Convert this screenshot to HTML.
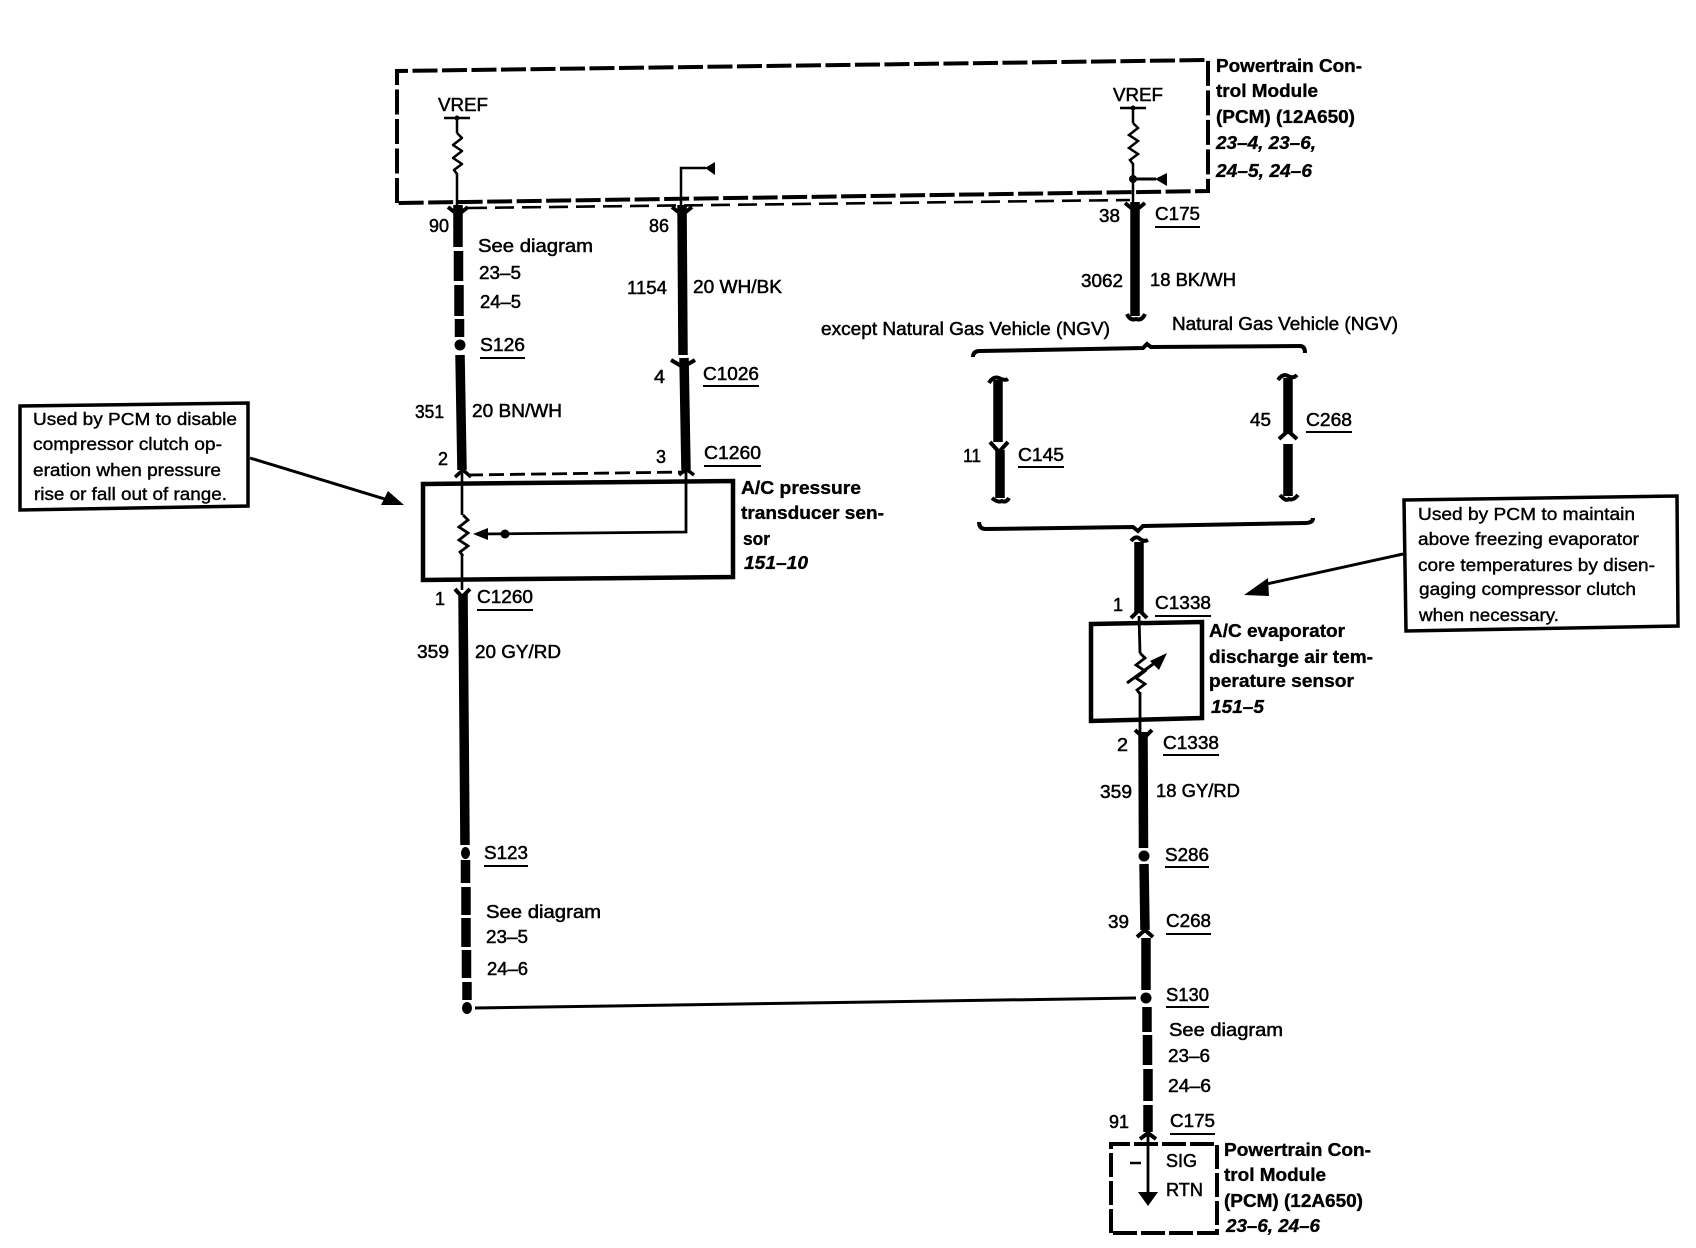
<!DOCTYPE html>
<html><head><meta charset="utf-8"><style>
html,body{margin:0;padding:0;background:#fff}
svg{display:block}
text{font-family:"Liberation Sans",sans-serif;font-size:18px;fill:#000;stroke:#000;stroke-width:.5px}
.b{font-weight:bold;stroke-width:.35px}
.i{font-weight:bold;font-style:italic;stroke-width:.35px}
.s{font-size:17.5px;stroke-width:.4px}
</style></head><body>
<svg width="1696" height="1248" viewBox="0 0 1696 1248" xmlns="http://www.w3.org/2000/svg">
<rect width="1696" height="1248" fill="#fff"/>
<g fill="none" stroke="#000" stroke-linecap="butt">
<!-- PCM dashed box -->
<path d="M397 203 L397 71 L1208 60 L1208 191 L397 203" stroke-width="4" stroke-dasharray="25 4.5"/>
<path d="M468 208 L1130 200" stroke-width="2.6" stroke-dasharray="19 8"/>
<!-- resistors / thin lines -->
<path d="M457 118V133" stroke-width="2.5"/><path d="M457 173V205" stroke-width="2.5"/>
<path d="M444 118H470" stroke-width="2.5"/>
<path d="M457 133 L462 138 L453 145 L462 151 L453 158 L462 164 L454 170 L457 174" stroke-width="2.5" stroke-linejoin="round"/>
<path d="M681 205V168H706" stroke-width="2.5"/>
<path d="M1133 108V123M1133 163V205" stroke-width="2.5"/><path d="M1120 108H1146" stroke-width="2.5"/>
<path transform="translate(676,-10)" d="M457 133 L462 138 L453 145 L462 151 L453 158 L462 164 L454 170 L457 174" stroke-width="2.5"/>
<path d="M1133 179H1156" stroke-width="3"/>
<!-- left wire upper -->
<path d="M458 205V247" stroke-width="9.500"/><path d="M458.500 251V281" stroke-width="9.500"/>
<path d="M459 285V316" stroke-width="9.500"/><path d="M459.500 319V337" stroke-width="9.500"/>
<path d="M460 355L462 470" stroke-width="9.500"/>
<!-- wire 1154 -->
<path d="M682 205L683 355" stroke-width="9.500"/><path d="M684 358L686 470" stroke-width="9.500"/>
<path d="M671 360L683 367L695 360" stroke-width="4"/>
<path d="M448 207L458 215L468 207" stroke-width="4"/>
<path d="M672 207L682 215L692 207" stroke-width="4"/>
<!-- sensor 1 -->
<path d="M423 484L733 481L733 577L423 580Z" stroke-width="4.500"/>
<path d="M462 470V515M462 555V590" stroke-width="2.6"/>
<path transform="translate(6,382)" d="M457 133 L462 138 L453 145 L462 151 L453 158 L462 164 L454 170 L457 174" stroke-width="2.8"/>
<path d="M686 470V532L480 534" stroke-width="2.8"/>
<path d="M468 475L685 472" stroke-width="2.8" stroke-dasharray="15 6"/>
<path d="M455 477L463 470L471 477M679 475L686 469L694 475" stroke-width="3.500"/>
<path d="M455 589L462 597L470 589" stroke-width="4"/>
<!-- left wire lower -->
<path d="M463 594L465 845" stroke-width="9.500"/>
<path d="M465.500 860V883M466 887V915M466 918V947M466.500 950V978M467 982V1000" stroke-width="9.500"/>
<path d="M475 1008L1136 998" stroke-width="3"/>
<!-- right upper wire -->
<path d="M1135 202V316" stroke-width="9.500"/>
<path d="M1125 203L1135 211L1145 203" stroke-width="4"/>
<path d="M1127 314Q1130 321 1136 319Q1142 321 1145 314" stroke-width="4"/>
<!-- brackets -->
<path d="M973 357Q973 351 980 351L1143 348L1147 344L1151 347L1300 346Q1305 346 1305 353" stroke-width="4"/>
<path d="M979 522Q979 529 986 529L1133 527L1138 531L1143 526L1305 523Q1313 523 1313 518" stroke-width="4"/>
<!-- branches -->
<path d="M998 380V442M1000 450V498" stroke-width="9.500"/>
<path d="M990 442L999 452L1008 442" stroke-width="4"/>
<path d="M989 383Q993 376 999 378Q1005 381 1008 379" stroke-width="4"/>
<path d="M992 498Q998 503 1002 501Q1006 503 1009 498" stroke-width="4"/>
<path d="M1288 378V434M1288 444V496" stroke-width="9.500"/>
<path d="M1279 439L1288 431L1297 439" stroke-width="4"/>
<path d="M1278 380Q1283 373 1288 376Q1293 379 1297 375" stroke-width="4"/>
<path d="M1280 495Q1286 502 1289 499Q1293 501 1298 495" stroke-width="4"/>
<!-- right mid wire -->
<path d="M1131 541Q1136 535 1140 539Q1144 542 1148 540" stroke-width="4"/>
<path d="M1139 542V612" stroke-width="9.500"/>
<path d="M1131 618L1139 610L1147 618" stroke-width="4"/>
<path d="M1091 624L1202 622L1202 718L1091 721Z" stroke-width="4.500"/>
<path d="M1139 616L1140 653M1140 692V735" stroke-width="2.800"/>
<path transform="translate(683,520)" d="M457 133 L462 138 L453 145 L462 151 L453 158 L462 164 L454 170 L457 174" stroke-width="2.800"/>
<path d="M1127 683L1156 662" stroke-width="3"/>
<path d="M1135 730L1144 738L1152 730" stroke-width="4"/>
<path d="M1143 732L1143.500 848" stroke-width="9.500"/>
<path d="M1144 864L1145 930" stroke-width="9.500"/>
<path d="M1137 937L1145 930L1153 937" stroke-width="4"/>
<path d="M1146 938L1146 990" stroke-width="9.500"/>
<path d="M1147 1007V1032M1147.500 1035V1065M1148 1069V1101M1148 1105V1132" stroke-width="9.500"/>
<path d="M1140 1139L1148 1133L1156 1139" stroke-width="4"/>
<!-- lower dashed box -->
<path d="M1111 1233V1144H1217V1233Z" stroke-width="4" stroke-dasharray="24 4"/>
<path d="M1148 1133V1195" stroke-width="2.800"/>
<path d="M1130 1163H1141" stroke-width="2.500"/>
<!-- callouts -->
<path d="M20 406L248 403L248 506L20 510Z" stroke-width="3.500"/>
<path d="M250 458L388 500" stroke-width="3"/>
<path d="M1404 500L1677 496L1678 626L1406 631Z" stroke-width="3.500"/>
<path d="M1403 554L1262 585" stroke-width="3"/>
<!-- underlines -->
<path stroke-width="2" d="M480 358H525M703 386H759M1155 227H1200M704 466H761M1306 432H1352M1018 467H1064M477 610H533M1155 616H1211M1163 755H1219M1165 867H1209M1166 934H1211M1166 1007H1209M1170 1134H1215M484 866H528"/>
</g>
<g fill="#000" stroke="none">
<path d="M705 168L715 162V175Z"/>
<path d="M1155 179L1167 173V186Z"/>
<circle cx="1133" cy="179" r="4"/>
<circle cx="457" cy="118" r="2.500"/><circle cx="1133" cy="108" r="2.500"/>
<circle cx="460" cy="345" r="5.500"/>
<ellipse cx="465.500" cy="853" rx="4.500" ry="6"/>
<ellipse cx="467" cy="1008" rx="5" ry="6"/>
<circle cx="1144" cy="856" r="5.500"/>
<circle cx="1146" cy="998" r="5.500"/>
<circle cx="505" cy="534" r="4.500"/>
<path d="M473 534L488 528V540Z"/>
<path d="M404 505L381 505L388 491Z"/>
<path d="M1244 595L1268 578L1269 596Z"/>
<path d="M1167 653L1150 661L1159 670Z"/>
<path d="M1148 1206L1138 1192H1158Z"/>
</g>
<!-- labels -->
<text x="438" y="111" textLength="50" lengthAdjust="spacingAndGlyphs">VREF</text>
<text x="1113" y="101" textLength="50" lengthAdjust="spacingAndGlyphs">VREF</text>
<text x="429" y="232" textLength="20" lengthAdjust="spacingAndGlyphs">90</text>
<text x="478" y="252" textLength="115" lengthAdjust="spacingAndGlyphs">See diagram</text>
<text x="479" y="279" textLength="42" lengthAdjust="spacingAndGlyphs">23–5</text>
<text x="480" y="308" textLength="41" lengthAdjust="spacingAndGlyphs">24–5</text>
<text x="480" y="351" textLength="45" lengthAdjust="spacingAndGlyphs">S126</text>
<text x="415" y="418" textLength="29" lengthAdjust="spacingAndGlyphs">351</text>
<text x="472" y="417" textLength="90" lengthAdjust="spacingAndGlyphs">20 BN/WH</text>
<text x="649" y="232" textLength="20" lengthAdjust="spacingAndGlyphs">86</text>
<text x="627" y="294" textLength="40" lengthAdjust="spacingAndGlyphs">1154</text>
<text x="693" y="293" textLength="89" lengthAdjust="spacingAndGlyphs">20 WH/BK</text>
<text x="654" y="383" textLength="11" lengthAdjust="spacingAndGlyphs">4</text>
<text x="703" y="380" textLength="56" lengthAdjust="spacingAndGlyphs">C1026</text>
<text x="821" y="335" textLength="289" lengthAdjust="spacingAndGlyphs">except Natural Gas Vehicle (NGV)</text>
<text class="b" x="1216" y="72" textLength="146" lengthAdjust="spacingAndGlyphs">Powertrain Con-</text>
<text class="b" x="1216" y="97" textLength="102" lengthAdjust="spacingAndGlyphs">trol Module</text>
<text class="b" x="1216" y="123" textLength="139" lengthAdjust="spacingAndGlyphs">(PCM) (12A650)</text>
<text class="i" x="1216" y="149" textLength="100" lengthAdjust="spacingAndGlyphs">23–4, 23–6,</text>
<text class="i" x="1216" y="177" textLength="96" lengthAdjust="spacingAndGlyphs">24–5, 24–6</text>
<text x="1099" y="222" textLength="21" lengthAdjust="spacingAndGlyphs">38</text>
<text x="1155" y="220" textLength="45" lengthAdjust="spacingAndGlyphs">C175</text>
<text x="1081" y="287" textLength="42" lengthAdjust="spacingAndGlyphs">3062</text>
<text x="1150" y="286" textLength="86" lengthAdjust="spacingAndGlyphs">18 BK/WH</text>
<text x="1172" y="330" textLength="226" lengthAdjust="spacingAndGlyphs">Natural Gas Vehicle (NGV)</text>
<text x="1250" y="426" textLength="21" lengthAdjust="spacingAndGlyphs">45</text>
<text x="1306" y="426" textLength="46" lengthAdjust="spacingAndGlyphs">C268</text>
<text x="963" y="462" textLength="18" lengthAdjust="spacingAndGlyphs">11</text>
<text x="1018" y="461" textLength="46" lengthAdjust="spacingAndGlyphs">C145</text>
<text class="s" x="33" y="425" textLength="204" lengthAdjust="spacingAndGlyphs">Used by PCM to disable</text>
<text class="s" x="33" y="450" textLength="189" lengthAdjust="spacingAndGlyphs">compressor clutch op-</text>
<text class="s" x="33" y="476" textLength="188" lengthAdjust="spacingAndGlyphs">eration when pressure</text>
<text class="s" x="34" y="500" textLength="193" lengthAdjust="spacingAndGlyphs">rise or fall out of range.</text>
<text x="438" y="465" textLength="10" lengthAdjust="spacingAndGlyphs">2</text>
<text x="656" y="463" textLength="10" lengthAdjust="spacingAndGlyphs">3</text>
<text x="704" y="459" textLength="57" lengthAdjust="spacingAndGlyphs">C1260</text>
<text class="b" x="741" y="494" textLength="120" lengthAdjust="spacingAndGlyphs">A/C pressure</text>
<text class="b" x="741" y="519" textLength="143" lengthAdjust="spacingAndGlyphs">transducer sen-</text>
<text class="b" x="743" y="545" textLength="27" lengthAdjust="spacingAndGlyphs">sor</text>
<text class="i" x="744" y="569" textLength="64" lengthAdjust="spacingAndGlyphs">151–10</text>
<text x="435" y="605" textLength="10" lengthAdjust="spacingAndGlyphs">1</text>
<text x="477" y="603" textLength="56" lengthAdjust="spacingAndGlyphs">C1260</text>
<text x="417" y="658" textLength="32" lengthAdjust="spacingAndGlyphs">359</text>
<text x="475" y="658" textLength="86" lengthAdjust="spacingAndGlyphs">20 GY/RD</text>
<text x="1113" y="611" textLength="10" lengthAdjust="spacingAndGlyphs">1</text>
<text x="1155" y="609" textLength="56" lengthAdjust="spacingAndGlyphs">C1338</text>
<text class="b" x="1209" y="637" textLength="136" lengthAdjust="spacingAndGlyphs">A/C evaporator</text>
<text class="b" x="1209" y="663" textLength="164" lengthAdjust="spacingAndGlyphs">discharge air tem-</text>
<text class="b" x="1209" y="687" textLength="145" lengthAdjust="spacingAndGlyphs">perature sensor</text>
<text class="i" x="1211" y="713" textLength="53" lengthAdjust="spacingAndGlyphs">151–5</text>
<text x="1117" y="751" textLength="11" lengthAdjust="spacingAndGlyphs">2</text>
<text x="1163" y="749" textLength="56" lengthAdjust="spacingAndGlyphs">C1338</text>
<text class="s" x="1418" y="520" textLength="217" lengthAdjust="spacingAndGlyphs">Used by PCM to maintain</text>
<text class="s" x="1418" y="545" textLength="221" lengthAdjust="spacingAndGlyphs">above freezing evaporator</text>
<text class="s" x="1418" y="571" textLength="237" lengthAdjust="spacingAndGlyphs">core temperatures by disen-</text>
<text class="s" x="1419" y="595" textLength="217" lengthAdjust="spacingAndGlyphs">gaging compressor clutch</text>
<text class="s" x="1419" y="621" textLength="140" lengthAdjust="spacingAndGlyphs">when necessary.</text>
<text x="1100" y="798" textLength="32" lengthAdjust="spacingAndGlyphs">359</text>
<text x="1156" y="797" textLength="84" lengthAdjust="spacingAndGlyphs">18 GY/RD</text>
<text x="1165" y="861" textLength="44" lengthAdjust="spacingAndGlyphs">S286</text>
<text x="1108" y="928" textLength="21" lengthAdjust="spacingAndGlyphs">39</text>
<text x="1166" y="927" textLength="45" lengthAdjust="spacingAndGlyphs">C268</text>
<text x="1166" y="1001" textLength="43" lengthAdjust="spacingAndGlyphs">S130</text>
<text x="1169" y="1036" textLength="114" lengthAdjust="spacingAndGlyphs">See diagram</text>
<text x="1168" y="1062" textLength="42" lengthAdjust="spacingAndGlyphs">23–6</text>
<text x="1168" y="1092" textLength="43" lengthAdjust="spacingAndGlyphs">24–6</text>
<text x="1109" y="1128" textLength="20" lengthAdjust="spacingAndGlyphs">91</text>
<text x="1170" y="1127" textLength="45" lengthAdjust="spacingAndGlyphs">C175</text>
<text class="b" x="1224" y="1156" textLength="147" lengthAdjust="spacingAndGlyphs">Powertrain Con-</text>
<text class="b" x="1224" y="1181" textLength="102" lengthAdjust="spacingAndGlyphs">trol Module</text>
<text class="b" x="1224" y="1207" textLength="139" lengthAdjust="spacingAndGlyphs">(PCM) (12A650)</text>
<text class="i" x="1226" y="1232" textLength="94" lengthAdjust="spacingAndGlyphs">23–6, 24–6</text>
<text x="1166" y="1167" textLength="31" lengthAdjust="spacingAndGlyphs">SIG</text>
<text x="1166" y="1196" textLength="37" lengthAdjust="spacingAndGlyphs">RTN</text>
<text x="484" y="859" textLength="44" lengthAdjust="spacingAndGlyphs">S123</text>
<text x="486" y="918" textLength="115" lengthAdjust="spacingAndGlyphs">See diagram</text>
<text x="486" y="943" textLength="42" lengthAdjust="spacingAndGlyphs">23–5</text>
<text x="487" y="975" textLength="41" lengthAdjust="spacingAndGlyphs">24–6</text>
</svg>
</body></html>
